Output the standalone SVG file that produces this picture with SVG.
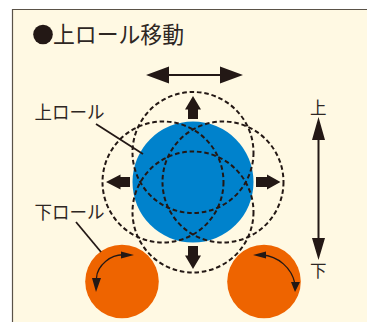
<svg xmlns="http://www.w3.org/2000/svg" width="367" height="322" viewBox="0 0 367 322">
<style>
text{font-family:"Noto Sans CJK JP","Noto Sans",sans-serif;fill:#2e2723;font-weight:400}
.d{fill:none;stroke:#231815;stroke-width:2;stroke-dasharray:4.600 2.800}
.l{fill:none;stroke:#231815;stroke-width:1.800}
.f{fill:#231815;stroke:none}
</style>
<rect width="367" height="322" fill="#fff"/>
<rect x="12" y="9" width="355" height="313" fill="#fff9e3"/>
<path d="M12.500 322V9.500H367" fill="none" stroke="#5a5248" stroke-width="1.200"/>
<g id="title"><circle cx="43" cy="34.500" r="9.800" fill="#231815"/><text x="53" y="43" font-size="23" textLength="131" lengthAdjust="spacingAndGlyphs">上ロール移動</text></g>
<g id="upper-roll"><circle cx="193" cy="182" r="60.500" fill="#0082cc"/></g>
<g id="lower-roll-left"><circle cx="122" cy="281.500" r="36.800" fill="#ee6400"/></g>
<g id="lower-roll-right"><circle cx="264" cy="281.500" r="36.800" fill="#ee6400"/></g>
<g id="dashed-circles">
<circle class="d" cx="193" cy="152.500" r="60.500"/>
<circle class="d" cx="193" cy="212" r="60.500"/>
<circle class="d" cx="163" cy="182" r="60.500"/>
<circle class="d" cx="223" cy="182" r="60.500"/>
</g>
<g id="connectors">
<path class="l" d="M160 75H230"/>
<path class="f" d="M146 75L169 66.500V83.500ZM243 75L220 66.500V83.500Z"/>
<path class="l" style="stroke-width:2" d="M318.500 130V245"/>
<path class="f" d="M318.500 117L312 140H325ZM318.500 260L312 238H325Z"/>
<path class="f" d="M193 96L185 109.500H188V119H198V109.500H201ZM193 269L185 255.500H188V246H198V255.500H201ZM106 182L120.500 174.500V177H130V187H120.500V189.500ZM280.500 182L267 174.500V177H256V187H267V189.500Z"/>
<path class="l" d="M96 124L143 154"/>
<path class="l" d="M76 222L101 252"/>
<path class="l" style="stroke-width:1.300" d="M96.500 278C97 266 111 253 126 255"/>
<path class="f" d="M92 278L101 278L96 292ZM121 251.500L134 255L121 258.500ZM266 251.500L253 255L266 258.500ZM291 282L300 282L295 292Z"/>
<path class="l" style="stroke-width:1.300" d="M262 255C278 256 292 268 295 284"/>
</g>
<g id="labels">
<text x="34.500" y="118.500" font-size="18" textLength="70" lengthAdjust="spacingAndGlyphs">上ロール</text>
<text x="34.500" y="219" font-size="18" textLength="70" lengthAdjust="spacingAndGlyphs">下ロール</text>
<text x="310" y="114" font-size="16.500">上</text>
<text x="310" y="277" font-size="16.500">下</text>
</g>
</svg>
